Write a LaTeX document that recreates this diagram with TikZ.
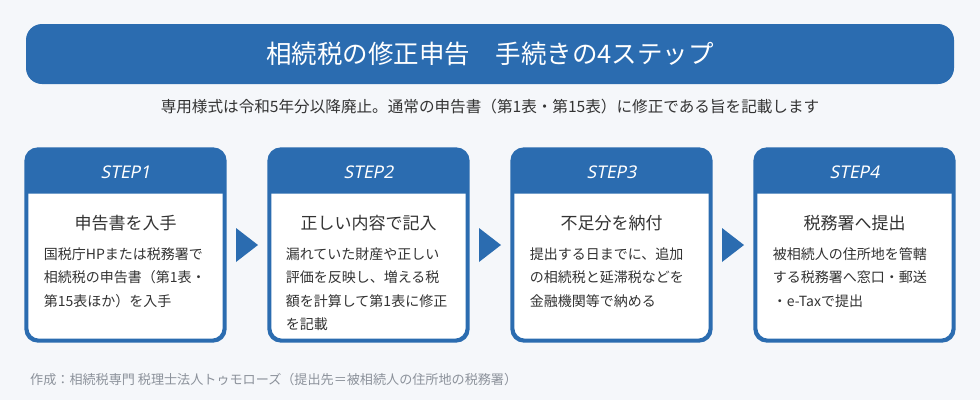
\documentclass[tikz,border=0pt]{standalone}
\usepackage{fontspec}
\setmainfont{Noto Sans CJK JP}
\newfontfamily\stepfont{Noto Sans}[AutoFakeSlant=0.2]
\usetikzlibrary{calc}
\definecolor{mainblue}{RGB}{43,108,176}
\definecolor{bgcol}{RGB}{245,247,250}
\definecolor{txtdark}{RGB}{51,51,51}
\definecolor{txtgray}{RGB}{140,146,155}
\tikzset{
  titlebar/.style={rectangle, rounded corners=16pt, fill=mainblue, minimum width=928pt, minimum height=60pt, inner sep=0pt},
  stepbox/.style={rectangle, rounded corners=12pt, fill=white, draw=mainblue, line width=2.6pt, minimum width=197pt, minimum height=190pt, inner sep=0pt},
  steplabel/.style={anchor=base, text=white, font=\stepfont\itshape\fontsize{17.5}{20}\selectfont, inner sep=0pt},
  stephead/.style={anchor=base, text=txtdark, font=\fontsize{17}{20}\selectfont, inner sep=0pt},
  stepbody/.style={anchor=base west, text=txtdark, font=\fontsize{14}{23.5}\selectfont, text width=185pt, align=left, inner sep=0pt},
  nextarrow/.style={fill=mainblue},
}
\begin{document}
\begin{tikzpicture}[x=1pt,y=-1pt]
\fill[bgcol] (0,0) rectangle (980,400);
\useasboundingbox (0,0) rectangle (980,400);
% title
\node[titlebar] (title) at (490,54) {};
\node[anchor=base, text=white, font=\fontsize{25.5}{28}\selectfont, inner sep=0pt] (titletext) at (490,63.5) {相続税の修正申告　手続きの4ステップ};
\node[anchor=base, text=txtdark, font=\fontsize{15.6}{18}\selectfont, inner sep=0pt] (subtitle) at (490,112) {専用様式は令和5年分以降廃止。通常の申告書（第1表・第15表）に修正である旨を記載します};
% boxes
\foreach \i/\cx in {1/125.5,2/368.5,3/611.5,4/854.5} {
  \node[stepbox] (s\i) at (\cx,245) {};
  \begin{scope}
    \clip[rounded corners=12pt] (s\i.south west) rectangle (s\i.north east);
    \fill[mainblue, rounded corners=6pt] ($(s\i.north west)+(-5,-5)$) rectangle ($(s\i.north east)+(5,45)$);
  \end{scope}
  \draw[mainblue, line width=2.6pt, rounded corners=12pt] (s\i.south west) rectangle (s\i.north east);
  \node[steplabel] (l\i) at (\cx,178) {STEP\i};
}
\node[stephead] (h1) at (125.5,229.5) {申告書を入手};
\node[stephead] (h2) at (368.5,229.5) {正しい内容で記入};
\node[stephead] (h3) at (611.5,229.5) {不足分を納付};
\node[stephead] (h4) at (854.5,229.5) {税務署へ提出};
\node[stepbody] (b1) at ($(s1.west |- 0,259)+(18,0)$) {国税庁HPまたは税務署で\\相続税の申告書（第1表・\\第15表ほか）を入手};
\node[stepbody] (b2) at ($(s2.west |- 0,259)+(17,0)$) {漏れていた財産や正しい\\評価を反映し、増える税\\額を計算して第1表に修正\\を記載};
\node[stepbody] (b3) at ($(s3.west |- 0,259)+(18,0)$) {提出する日までに、追加\\の相続税と延滞税などを\\金融機関等で納める};
\node[stepbody] (b4) at ($(s4.west |- 0,259)+(18,0)$) {被相続人の住所地を管轄\\する税務署へ窓口・郵送\\・e-Taxで提出};
% arrows
\foreach \a/\b in {1/2,2/3,3/4} {
  \coordinate (m\a) at ($(s\a.east)!0.5!(s\b.west)$);
  \fill[nextarrow] ($(m\a)+(-11,-17)$) -- ($(m\a)+(11,0)$) -- ($(m\a)+(-11,17)$) -- cycle;
}
% footer
\node[anchor=base west, text=txtgray, font=\fontsize{13.1}{15}\selectfont, inner sep=0pt] (footer) at (30,384) {作成：相続税専門 税理士法人トゥモローズ（提出先＝被相続人の住所地の税務署）};
\end{tikzpicture}
\end{document}
